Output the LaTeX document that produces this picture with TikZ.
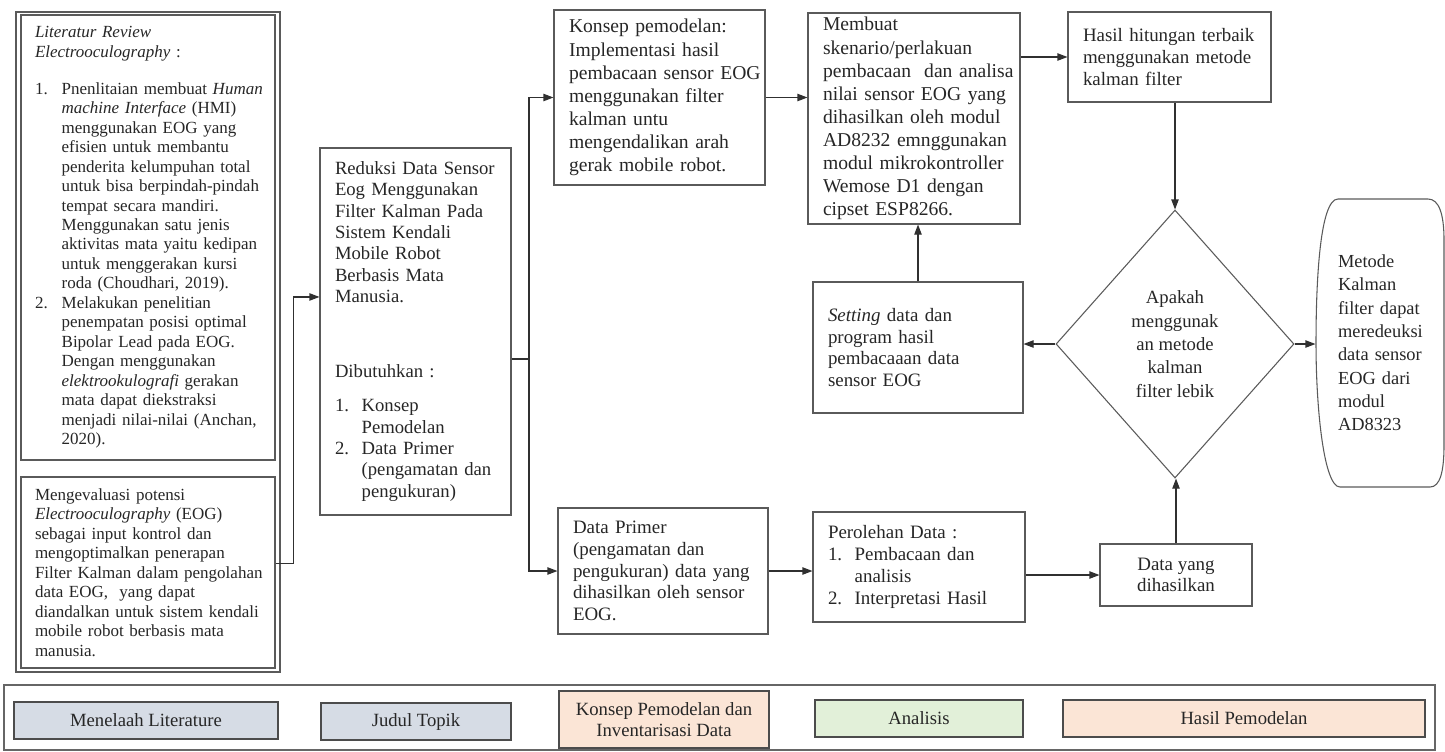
\documentclass[tikz,border=0pt]{standalone}
\usepackage{fontspec}
\setmainfont{Liberation Serif}
\usetikzlibrary{arrows.meta,shapes.geometric,calc}

\definecolor{linegray}{HTML}{303030}
\definecolor{boxgray}{HTML}{5A5A5A}
\definecolor{legblue}{HTML}{D6DCE5}
\definecolor{legpeach}{HTML}{FBE5D6}
\definecolor{leggreen}{HTML}{E2F0D9}

\newcommand{\numitem}[2]{\par\hangindent=20pt\hangafter=1\noindent\makebox[20pt][l]{#1}{\let\\\newline#2}\par}

\begin{document}
\begin{tikzpicture}[x=0.75pt,y=-0.75pt]
    \useasboundingbox (0,0) rectangle (1445,751);

    \tikzstyle{flowbox} = [draw=boxgray, line width=0.8pt, inner xsep=0pt, inner ysep=0pt, align=left, text=black!85, execute at begin node={\leftskip=11.25pt\relax}]
    \tikzstyle{plainbox} = [draw=boxgray, line width=0.8pt, inner sep=0pt, align=center, text=black!85]
    \tikzstyle{lit} = [font=\fontsize{12.75}{14.6}\selectfont, execute at begin node={\leftskip=10.5pt\relax}]
    \tikzstyle{big} = [font=\fontsize{14.7}{17.3}\selectfont]
    \tikzstyle{mid} = [font=\fontsize{14.2}{16.3}\selectfont]
    \tikzstyle{arr} = [draw=linegray, line width=0.8pt, -{Triangle[length=7.5pt,width=5.5pt]}]
    \tikzstyle{conn} = [draw=linegray, line width=0.8pt]
    \tikzstyle{legend} = [draw=black!70, line width=1pt, inner sep=0pt, align=center, text=black!85, font=\fontsize{14}{16.3}\selectfont]

    \node[draw=boxgray, line width=0.8pt, minimum width=198pt, minimum height=495pt, inner sep=0pt] (litframe) at (148,342) {};

    \node[flowbox, lit, text width=190.5pt, minimum height=333.75pt] (review) at (148,237.5) {%
        \textit{Literatur Review}\\
        \textit{Electrooculography} :\\[13pt]
        \numitem{1.}{Pnenlitaian membuat \textit{Human}\\ \textit{machine Interface} (HMI)\\ menggunakan EOG yang\\ efisien untuk membantu\\ penderita kelumpuhan total\\ untuk bisa berpindah-pindah\\ tempat secara mandiri.\\ Menggunakan satu jenis\\ aktivitas mata yaitu kedipan\\ untuk menggerakan kursi\\ roda (Choudhari, 2019).}
        \numitem{2.}{Melakukan penelitian\\ penempatan posisi optimal\\ Bipolar Lead pada EOG.\\ Dengan menggunakan\\ \textit{elektrookulografi} gerakan\\ mata dapat diekstraksi\\ menjadi nilai-nilai (Anchan,\\ 2020).}};

    \node[flowbox, lit, text width=190.5pt, minimum height=143.25pt] (eval) at (148,572.5) {%
        Mengevaluasi potensi\\
        \textit{Electrooculography} (EOG)\\
        sebagai input kontrol dan\\
        mengoptimalkan penerapan\\
        Filter Kalman dalam pengolahan\\
        data EOG,~ yang dapat\\
        diandalkan untuk sistem kendali\\
        mobile robot berbasis mata\\
        manusia.};

    \node[flowbox, font=\fontsize{14}{16}\selectfont, text width=143.25pt, minimum height=275.25pt] (reduksi) at (415.5,331.5) {%
        Reduksi Data Sensor\\ Eog Menggunakan\\ Filter Kalman Pada\\ Sistem Kendali\\ Mobile Robot\\ Berbasis Mata\\ Manusia.\\[40pt]
        Dibutuhkan :\\[10pt]
        \numitem{1.}{Konsep\\ Pemodelan}
        \numitem{2.}{Data Primer\\ (pengamatan dan\\ pengukuran)}};

    \node[flowbox, big, text width=158.25pt, minimum height=131.25pt] (konsep) at (659.5,97.5) {%
        Konsep pemodelan:\\ Implementasi hasil\\ pembacaan sensor EOG\\ menggunakan filter\\ kalman untu\\ mengendalikan arah\\ gerak mobile robot.};

    \node[flowbox, big, text width=159pt, minimum height=158.25pt] (membuat) at (914,118.5) {%
        Membuat\\ skenario/perlakuan\\ pembacaan~ dan analisa\\ nilai sensor EOG yang\\ dihasilkan oleh modul\\ AD8232 emnggunakan\\ modul mikrokontroller\\ Wemose D1 dengan\\ cipset ESP8266.};

    \node[flowbox, mid, text width=152.25pt, minimum height=67.5pt] (hasil) at (1169.5,57) {%
        Hasil hitungan terbaik\\ menggunakan metode\\ kalman filter};

    \node[plainbox, shape=diamond, minimum width=178.5pt, minimum height=201pt, font=\fontsize{14}{17.5}\selectfont] (dec) at (1175,344) {%
        Apakah\\ menggunak\\ an metode\\ kalman\\ filter lebik};

    \node[flowbox, draw=none, font=\fontsize{13.8}{17.5}\selectfont, text width=96pt, minimum height=216pt, execute at begin node={\leftskip=16.5pt\relax}] (metode) at (1380,343) {%
        Metode\\ Kalman\\ filter dapat\\ meredeuksi\\ data sensor\\ EOG dari\\ modul\\ AD8323};
    \draw[boxgray, line width=0.8pt] (1338,199) -- (1428,199) .. controls (1439,199) and (1444,214) .. (1444,240) -- (1444,445) .. controls (1444,472) and (1440,487) .. (1430,487) -- (1340,487) .. controls (1324,487) and (1316,410) .. (1316,343) .. controls (1316,280) and (1320,199) .. (1338,199) -- cycle;

    \node[flowbox, mid, text width=157.5pt, minimum height=98.25pt] (setting) at (918,347.5) {%
        \textit{Setting} data dan\\ program hasil\\ pembacaaan data\\ sensor EOG};

    \node[flowbox, mid, text width=157.5pt, minimum height=94.5pt] (primer) at (663,571) {%
        Data Primer\\ (pengamatan dan\\ pengukuran) data yang\\ dihasilkan oleh sensor\\ EOG.};

    \node[flowbox, mid, text width=159pt, minimum height=82.5pt] (perolehan) at (919,567) {%
        Perolehan Data :
        \numitem{1.}{Pembacaan dan\\ analisis}
        \numitem{2.}{Interpretasi Hasil}};

    \node[plainbox, mid, minimum width=114pt, minimum height=46.5pt] (datayang) at (1176,575) {%
        Data yang\\ dihasilkan};

    \draw[arr] ([yshift=7.1pt]eval.east) -- ++(18,0) |- ([yshift=25.9pt]reduksi.west);
    \coordinate (bus) at (529,359);
    \draw[conn] (reduksi.east |- bus) -- (bus);
    \draw[arr] (bus) |- (konsep.west);
    \draw[arr] (bus) |- (primer.west);
    \draw[arr] (konsep.east) -- (konsep.east -| membuat.west);
    \draw[arr] (membuat.east |- hasil.west) -- (hasil.west);
    \draw[arr] (hasil.south -| dec.north) -- (dec.north);
    \draw[arr] (dec.east) -- (dec.east -| metode.west);
    \draw[arr] (dec.west) -- (dec.west -| setting.east);
    \draw[arr] (setting.north) -- (setting.north |- membuat.south);
    \draw[arr] (primer.east) -- (primer.east -| perolehan.west);
    \draw[arr] (perolehan.east |- datayang.west) -- (datayang.west);
    \draw[arr] (datayang.north) -- (datayang.north |- dec.south);

    \draw[black!60, line width=0.9pt] (4,685) rectangle (1435,750);
    \foreach \nm/\px/\py/\pw/\ph/\col/\txt in {
        menelaah/146/720.5/264/37/legblue/{Menelaah Literature},
        judul/416/721.5/190/37/legblue/{Judul Topik},
        konsepleg/664/719.5/210/57/legpeach/{Konsep Pemodelan dan\\Inventarisasi Data},
        analisis/919/718.5/208/37/leggreen/{Analisis},
        hasilleg/1244/718.5/362/37/legpeach/{Hasil Pemodelan}} {
        \node[legend, fill=\col, minimum width=0.75pt*\pw, minimum height=0.75pt*\ph] (\nm) at (\px,\py) {\txt};
    }
\end{tikzpicture}
\end{document}
